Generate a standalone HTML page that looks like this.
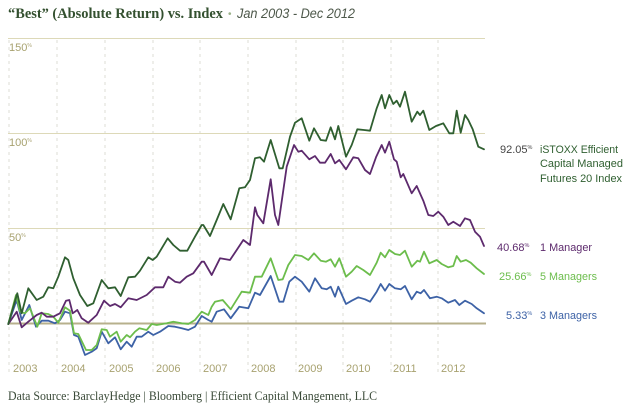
<!DOCTYPE html>
<html><head><meta charset="utf-8"><style>
html,body{margin:0;padding:0;background:#fff;}
svg{display:block;}
</style></head><body>
<svg width="635" height="407" viewBox="0 0 635 407" xmlns="http://www.w3.org/2000/svg">
<rect width="635" height="407" fill="#fff"/>
<!-- title -->
<text x="8" y="18" font-family="Liberation Serif, serif" font-size="15" font-weight="bold" fill="#33502f" textLength="215" lengthAdjust="spacingAndGlyphs">“Best” (Absolute Return) vs. Index</text>
<text x="228" y="17" font-family="Liberation Sans, sans-serif" font-size="10" fill="#9bb28a">•</text>
<text x="237" y="18" font-family="Liberation Sans, sans-serif" font-size="13.5" font-style="italic" fill="#4d584a" textLength="118" lengthAdjust="spacingAndGlyphs">Jan 2003 - Dec 2012</text>

<!-- vertical dashed year lines -->
<g stroke="#dcdcd6" stroke-width="1" stroke-dasharray="3,4">
<line x1="9" y1="40" x2="9" y2="376"/>
<line x1="57" y1="40" x2="57" y2="376"/>
<line x1="105" y1="40" x2="105" y2="376"/>
<line x1="153" y1="40" x2="153" y2="376"/>
<line x1="200" y1="40" x2="200" y2="376"/>
<line x1="248" y1="40" x2="248" y2="376"/>
<line x1="296" y1="40" x2="296" y2="376"/>
<line x1="343" y1="40" x2="343" y2="376"/>
<line x1="391" y1="40" x2="391" y2="376"/>
<line x1="438" y1="40" x2="438" y2="376"/>
</g>

<!-- horizontal grid -->
<g stroke="#ddd9b8" stroke-width="1">
<line x1="8" y1="38.5" x2="485" y2="38.5"/>
<line x1="8" y1="133.5" x2="485" y2="133.5"/>
<line x1="8" y1="228.5" x2="485" y2="228.5"/>
</g>
<line x1="8" y1="323.5" x2="486" y2="323.5" stroke="#b7b08c" stroke-width="2"/>

<!-- y labels -->
<g font-family="Liberation Sans, sans-serif" font-size="11" fill="#a8a270">
<text x="9" y="51">150<tspan font-size="5" dy="-4">%</tspan></text>
<text x="9" y="146">100<tspan font-size="5" dy="-4">%</tspan></text>
<text x="9" y="241">50<tspan font-size="5" dy="-4">%</tspan></text>
</g>

<!-- x labels -->
<g font-family="Liberation Sans, sans-serif" font-size="11" fill="#a8a270">
<text x="13" y="372">2003</text>
<text x="61" y="372">2004</text>
<text x="109" y="372">2005</text>
<text x="156" y="372">2006</text>
<text x="203" y="372">2007</text>
<text x="251" y="372">2008</text>
<text x="298" y="372">2009</text>
<text x="346" y="372">2010</text>
<text x="393" y="372">2011</text>
<text x="441" y="372">2012</text>
</g>

<g fill="none" stroke-width="1.8" stroke-linejoin="round" stroke-linecap="round">
<!-- blue: 3 managers -->
<polyline stroke="#3d62a6" points="8.3,324 16.7,300 21.7,320 29.3,305 36,326.7 41.7,320.7 48.3,320.7 55,323.3 60,320 65,311.7 70,313.3 74,335 78.3,336.7 85,355 91.7,351.7 96.7,348.3 101.7,331.7 108.3,343.3 115,337.3 120.7,349.3 126.7,341.7 131.7,346.7 136.7,336.7 141.7,336.7 148.3,331.7 153.3,335 160,331.7 168.3,326 175,326.7 181.7,328.3 188.3,330 195,326.7 201.7,316 208.3,320 211.7,321.7 216.7,311.7 224,309.3 230.7,318.3 239.3,306.7 248.3,308.3 255,292.7 260,295 270.7,276 279.3,301.7 283.3,301.7 289.3,281.7 295,276.7 301.7,281.7 309.3,291.7 315,278.3 321.7,288.3 326.7,289.3 330.7,286.7 335,296.7 338.3,286.7 346,304 351.7,300.7 358.3,297.3 365,299.3 370,301.7 376.7,291.7 380.7,284 385,290.7 389.3,284 395,288.3 400.7,289.3 405,286 411.7,299.3 416.7,291.7 420.7,293.3 424,290 430,298.3 436.7,296.7 441.7,298.3 448.3,302.7 455,300 459.3,305 465,300.7 471.7,304 476.7,308.3 484,313.3"/>
<!-- light green: 5 managers -->
<polyline stroke="#6cbd4c" points="8.3,324 16,295 20,311.7 25,313.3 30,308.3 37.3,326.7 41.7,313.3 48.3,314 53.3,316.7 58.3,322.7 65,307.3 70,310.7 74,333.3 78.3,334 86,350 91.7,350 96.7,345 101.7,329.3 106.7,330 110,336.7 116.7,331.7 120.7,341.7 126.7,335 130,337.3 135,331.7 139.3,328.3 146.7,330 151.7,324 156.7,325 166.7,323.3 173.3,321.7 181.7,323.3 188.3,324 195,320 201.7,311.7 208.3,315 211.7,306.7 215,301.7 222.7,300 230.7,309.3 241.7,291.7 250,292.7 255,276.7 261.7,276.7 270.7,258.3 278.3,280 282.7,279.3 288.3,265 295,255 301.7,256 308.3,260 314,253.3 320.7,260.7 326,261.7 330.7,259.3 335,266.7 339.3,258.3 346,276.7 351.7,271.7 356.7,266 363.3,270 370,275 376.7,262.7 380.7,252.7 385,257.3 389.3,250 395,254 400,255 405,250.7 411.7,266.7 417.3,260.7 420,261.7 424,251.7 429.3,263.3 436.7,260 441.7,264 448.3,267.3 453.3,266 456.7,256 460.7,261.7 466,260 470.7,262.7 476.7,268.3 484,274"/>
<!-- purple: 1 manager -->
<polyline stroke="#5d2a6d" points="8.3,324 16.7,311.7 21.7,327.3 28.3,321.7 36.7,315 41.7,312.7 46.7,316.7 53.3,316.7 60,313.3 66,300.7 69.3,300 72.7,313.3 77.3,310 81.7,318.3 88.3,322.7 96.7,315 104,300.7 110,306 115,304 120.7,307.3 128.3,298.3 136.7,300 146.7,295 155,287.3 163.3,287.3 168.3,276.7 175,281.7 180,282.7 186.7,276.7 193.3,273.3 201.7,261.7 204,261.7 211.7,275 220,258.3 230,260 236.7,250 243.3,240 250,245 255,207.3 257.3,215 263.3,223.3 270.7,179.3 275,215 278.3,225 286.7,166.7 294,145 298.3,151.7 301.7,150.7 309.3,159.3 315,156 320,162.7 325,162.7 330.7,154 335,163.3 339.3,160 346,169.3 353.3,157.3 358.3,158.3 365,170 370,174 376,157.3 381.7,145 385,152.7 389.3,141.7 394,159.3 396.7,161.7 400.7,177.3 403.3,174 411.7,193.3 416.7,186 423.3,200.7 428.3,215 433.3,216 438.3,211.7 443.3,216.7 448.3,225 453.3,221.7 460,226 465,218.3 470,220 475,231.7 480,236.7 484,246"/>
<!-- dark green: index -->
<polyline stroke="#2f5f30" points="8.3,324 17.3,293.3 21.7,313.3 28.3,288.3 36.7,300 43.3,296.7 48.3,287.3 53.3,288.3 58.3,276.7 65,257.3 68.3,260 73.3,278.3 80,295 87.3,306 93.3,303.3 101.7,280 108.3,288.3 115,287.3 120.7,296 128.3,277.3 135,276.7 140,270.7 148.3,257.3 152.7,260 156.7,256.7 167.7,238.3 173.3,245 180,250.7 187.3,250.7 195,236.7 201.7,225 203.3,225 210,236 216.7,220 223.3,204 230.7,219.3 239.3,188.3 245,187.3 250,180 255,158.3 260,157.3 264,161.7 270.7,140 279.3,168.3 282.7,168.3 290,136.7 295,122.7 301.7,118.3 309.3,140.7 314,128.3 320.7,140 326,140.7 330.7,127.3 335,139.3 338.3,126 346,156.7 351.7,145 357.3,129.3 364,130 370,130.7 376.7,108.3 381.7,95 385,108.3 389.3,95 393.3,104 396.7,100.7 400,106.7 405,91.7 411.7,121.7 417.3,111.7 420,115 423.3,110.7 429.3,130 436,126 443.3,123.3 449.3,133.3 453.3,133.3 456.7,110.7 460.7,132.7 465,115 468.3,120 472.7,129.3 478.3,146.7 484,149.3"/>
</g>

<!-- right labels -->
<g font-family="Liberation Sans, sans-serif" font-size="11">
<text x="500" y="153" fill="#444">92.05<tspan font-size="5.5" dy="-4">%</tspan></text>
<text x="540" y="153" fill="#2f5f30" textLength="78" lengthAdjust="spacingAndGlyphs">iSTOXX Efficient</text>
<text x="540" y="167" fill="#2f5f30" textLength="83" lengthAdjust="spacingAndGlyphs">Capital Managed</text>
<text x="540" y="182" fill="#2f5f30" textLength="82" lengthAdjust="spacingAndGlyphs">Futures 20 Index</text>
<text x="497" y="251" fill="#5d2a6d">40.68<tspan font-size="5.5" dy="-4">%</tspan></text>
<text x="540" y="251" fill="#5d2a6d" textLength="52" lengthAdjust="spacingAndGlyphs">1 Manager</text>
<text x="499" y="280" fill="#6cbd4c">25.66<tspan font-size="5.5" dy="-4">%</tspan></text>
<text x="540" y="280" fill="#6cbd4c" textLength="57" lengthAdjust="spacingAndGlyphs">5 Managers</text>
<text x="506" y="319" fill="#3d62a6">5.33<tspan font-size="5.5" dy="-4">%</tspan></text>
<text x="540" y="319" fill="#3d62a6" textLength="57" lengthAdjust="spacingAndGlyphs">3 Managers</text>
</g>

<!-- footer -->
<text x="8" y="400" font-family="Liberation Serif, serif" font-size="12.5" fill="#3a4a38" textLength="369" lengthAdjust="spacingAndGlyphs">Data Source: BarclayHedge | Bloomberg | Efficient Capital Mangement, LLC</text>
</svg>
</body></html>
